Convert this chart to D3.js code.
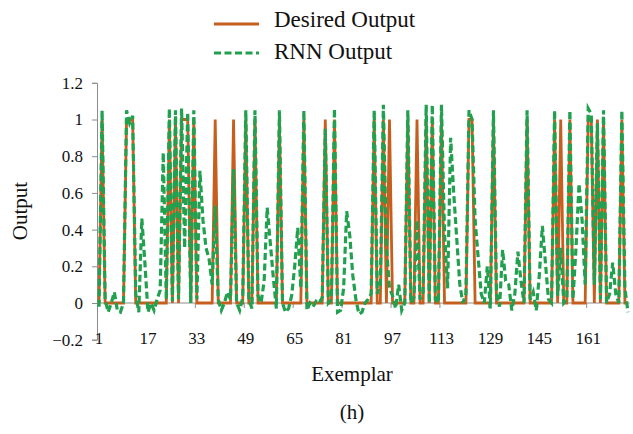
<!DOCTYPE html>
<html>
<head>
<meta charset="utf-8">
<script src="https://cdnjs.cloudflare.com/ajax/libs/d3/7.8.5/d3.min.js"></script>
<style>
	body { margin: 0; background: #fff; }
	text { font-family: "Liberation Serif", "Times New Roman", serif; fill: #111; }
</style>
</head>
<body>
<div id="chart"></div>
<script>
//Size of the SVG
var w = 633,
	h = 434;

///////////////////////////////////////////////////////////////////////////
/////////////////////////////// Data //////////////////////////////////////
///////////////////////////////////////////////////////////////////////////

//Desired (target) output for every exemplar, 0 or 1
var desired = [
	0,1,0,0,0,0,0,0,0,1,
	1,1,0,0,0,0,0,0,0,0,
	0,0,0,1,0,1,0,1,1,1,
	0,1,0,0,0,0,0,0,1,0,
	0,0,0,0,1,0,0,0,1,0,
	0,1,0,0,0,0,0,0,0,1,
	0,0,0,0,0,0,0,1,0,0,
	0,0,0,0,1,0,0,1,0,0,
	0,0,0,0,0,0,0,0,0,0,
	1,0,0,1,0,1,0,0,0,0,
	0,1,0,0,1,0,0,1,0,1,
	0,0,1,0,0,0,0,0,0,0,
	0,1,1,0,0,0,0,0,0,1,
	0,0,0,0,0,0,0,0,0,0,
	1,0,0,0,0,0,0,0,0,1,
	0,1,0,0,1,0,0,0,0,0,
	1,1,0,1,0,1,0,0,0,0,
	0,1,0,0
];

//Output of the recurrent network for the same exemplars
var rnn = [
	-0.02,1.05,0.02,-0.05,0.00,0.06,-0.04,-0.05,0.00,1.05,
	0.98,1.02,0.05,-0.05,0.46,0.22,-0.05,0.00,-0.04,0.02,
	0.07,0.82,0.02,1.06,0.01,1.05,0.02,1.06,0.30,1.04,
	0.00,1.05,0.02,0.72,0.45,0.30,0.24,0.10,0.53,0.02,
	-0.04,0.00,0.06,0.02,0.73,0.00,-0.04,0.03,1.05,0.02,
	-0.03,1.05,0.04,0.00,0.12,0.52,0.33,0.14,-0.03,1.05,
	0.00,-0.05,-0.03,0.04,0.20,0.41,0.08,1.05,-0.04,0.00,
	-0.02,0.01,0.00,0.03,0.95,0.00,0.02,1.06,-0.05,-0.04,
	0.08,0.50,0.37,0.15,0.02,-0.06,-0.05,0.00,0.02,0.05,
	1.05,0.05,0.10,1.08,0.30,0.08,0.04,-0.03,0.10,-0.04,
	0.00,1.05,0.00,0.03,0.45,0.02,0.06,1.08,0.00,1.08,
	0.02,0.00,1.08,0.38,0.08,0.90,0.60,0.35,0.10,0.00,
	0.05,1.05,1.00,0.45,0.25,0.05,0.00,0.20,-0.03,1.05,
	0.05,-0.02,0.29,0.12,0.10,-0.04,0.05,0.28,0.12,0.00,
	1.05,0.02,0.06,-0.04,0.15,0.42,0.22,0.02,0.00,1.05,
	0.04,0.30,0.00,0.02,1.05,0.02,0.30,0.65,0.45,0.10,
	1.06,1.03,0.10,0.98,0.02,1.05,0.00,0.05,0.22,0.05,
	0.00,1.05,0.08,-0.05
];

//Exemplar numbers along the bottom axis
var exemplars = d3.range(1, desired.length + 1);

//Tick labels
var xTicks = [1, 17, 33, 49, 65, 81, 97, 113, 129, 145, 161],
	yTicks = [-0.2, 0, 0.2, 0.4, 0.6, 0.8, 1, 1.2];

var orange = "#c65f1d",
	green = "#21a04f",
	axisGrey = "#8c8c8c";

///////////////////////////////////////////////////////////////////////////
///////////////////////// Initiate elements ///////////////////////////////
///////////////////////////////////////////////////////////////////////////

var svg = d3.select("#chart").append("svg")
	.attr("width", w)
	.attr("height", h);

//Scales - every exemplar sits in the middle of its own slot
var xScale = d3.scaleLinear()
	.domain([0.5, exemplars.length + 0.5])
	.range([97.5, 629.5]);

var yScale = d3.scaleLinear()
	.domain([-0.2, 1.2])
	.range([339.7, 82.8]);

//Vertical axis
var yAxis = svg.append("g")
	.attr("class", "y axis")
	.attr("transform", "translate(" + 97 + ",0)")
	.call(d3.axisLeft(yScale)
		.tickValues(yTicks)
		.tickSize(5)
		.tickPadding(9)
		.tickFormat(function(d) { return d3.format("")(+d.toFixed(1)); }));

yAxis.select(".domain").attr("stroke", axisGrey);
yAxis.selectAll(".tick line").attr("stroke", axisGrey);
yAxis.selectAll(".tick text")
	.style("font-size", "17px")
	.style("font-family", "Liberation Serif, Times New Roman, serif")
	.attr("fill", "#111");

//Horizontal axis crosses at zero, labels stay at the bottom
var xAxisLine = svg.append("g").attr("class", "x axis");

xAxisLine.append("line")
	.attr("x1", xScale.range()[0])
	.attr("x2", xScale.range()[1])
	.attr("y1", yScale(0))
	.attr("y2", yScale(0))
	.attr("stroke", axisGrey);

xAxisLine.selectAll("line.tick")
	.data(xTicks).enter().append("line")
	.attr("class", "tick")
	.attr("x1", function(d) { return xScale(d - 0.5); })
	.attr("x2", function(d) { return xScale(d - 0.5); })
	.attr("y1", yScale(0))
	.attr("y2", yScale(0) + 5)
	.attr("stroke", axisGrey);

svg.append("g").attr("class", "xLabels")
	.selectAll("text")
	.data(xTicks).enter().append("text")
	.attr("x", function(d) { return xScale(d); })
	.attr("y", 344)
	.attr("text-anchor", "middle")
	.style("font-size", "17px")
	.text(function(d) { return d; });

///////////////////////////////////////////////////////////////////////////
/////////////////////////////// Lines /////////////////////////////////////
///////////////////////////////////////////////////////////////////////////

var line = d3.line()
	.x(function(d, i) { return xScale(exemplars[i]); })
	.y(function(d) { return yScale(d); });

//Desired output first, network output drawn over it
svg.append("path")
	.datum(desired)
	.attr("class", "desired")
	.attr("d", line)
	.attr("fill", "none")
	.attr("stroke", orange)
	.attr("stroke-width", 2.8)
	.attr("stroke-linejoin", "miter");

svg.append("path")
	.datum(rnn)
	.attr("class", "rnn")
	.attr("d", line)
	.attr("fill", "none")
	.attr("stroke", green)
	.attr("stroke-width", 3.2)
	.attr("stroke-dasharray", "7,3.5");

///////////////////////////////////////////////////////////////////////////
////////////////////////////// Titles /////////////////////////////////////
///////////////////////////////////////////////////////////////////////////

svg.append("text")
	.attr("transform", "translate(" + 27 + "," + 211 + ") rotate(-90)")
	.attr("text-anchor", "middle")
	.style("font-size", "21px")
	.text("Output");

svg.append("text")
	.attr("x", 352)
	.attr("y", 381)
	.attr("text-anchor", "middle")
	.style("font-size", "21px")
	.text("Exemplar");

svg.append("text")
	.attr("x", 352)
	.attr("y", 419)
	.attr("text-anchor", "middle")
	.style("font-size", "21px")
	.text("(h)");

///////////////////////////////////////////////////////////////////////////
////////////////////////////// Legend /////////////////////////////////////
///////////////////////////////////////////////////////////////////////////

var legendData = [
	{name: "Desired Output", color: orange, dash: null, y: 24, base: 27},
	{name: "RNN Output", color: green, dash: "7,3.5", y: 53, base: 59}
];

var legend = svg.append("g").attr("class", "legend")
	.selectAll("g")
	.data(legendData).enter().append("g");

legend.append("line")
	.attr("x1", 214)
	.attr("x2", 259)
	.attr("y1", function(d) { return d.y; })
	.attr("y2", function(d) { return d.y; })
	.attr("stroke", function(d) { return d.color; })
	.attr("stroke-width", 3)
	.attr("stroke-dasharray", function(d) { return d.dash; });

legend.append("text")
	.attr("x", 274)
	.attr("y", function(d) { return d.base; })
	.style("font-size", "23px")
	.text(function(d) { return d.name; });
</script>
</body>
</html>
